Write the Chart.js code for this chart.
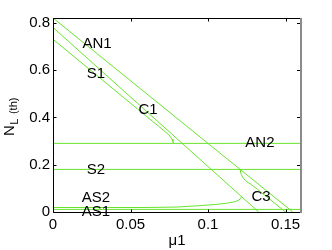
<!DOCTYPE html>
<html><head><meta charset="utf-8">
<script src="https://cdn.jsdelivr.net/npm/chart.js@4"></script>
<style>html,body{margin:0;padding:0;background:#fff;}#c{display:block;}</style>
</head><body>
<canvas id="c" width="332" height="250"></canvas>
<script>
// ---- tick labels / ranges ----
const xTicks = [0, 0.05, 0.1, 0.15];
const xTickLabels = ['0', '0.05', '0.1', '0.15'];
const yTicks = [0, 0.2, 0.4, 0.6, 0.8];
const yTickLabels = ['0', '0.2', '0.4', '0.6', '0.8'];
const xRange = [0, 0.16];
const yRange = [0, 0.82];

// ---- series ----
const an1X = [0, 0.1547];
const an1Y = [0.82, 0];
const midX = [0, 0.1327];
const midY = [0.78, 0];
const s1X = [0, 0.068, 0.071, 0.0735, 0.0755, 0.0768, 0.0774, 0.0776];
const s1Y = [0.73, 0.3628, 0.347, 0.333, 0.320, 0.308, 0.298, 0.29];
const c3X = [0.1208, 0.1210, 0.1215, 0.1225, 0.124, 0.126, 0.128, 0.132, 0.14, 0.150];
const c3Y = [0.18, 0.168, 0.158, 0.146, 0.134, 0.124, 0.1156, 0.0954, 0.053, 0.0];
const an2X = [0, 0.16];
const an2Y = [0.29, 0.29];
const s2X = [0, 0.16];
const s2Y = [0.18, 0.18];
const as1X = [0, 0.16];
const as1Y = [0.011, 0.011];
const as2X = [0, 0.06, 0.08, 0.095, 0.105, 0.112, 0.117, 0.1195, 0.121, 0.1216];
const as2Y = [0.019, 0.019, 0.021, 0.027, 0.032, 0.037, 0.043, 0.049, 0.056, 0.064];

// ---- text labels ----
const labelTexts = ['AN1', 'S1', 'C1', 'AN2', 'S2', 'C3', 'AS2', 'AS1'];
const labelX = [0.0284, 0.0277, 0.0613, 0.1335, 0.0277, 0.1342, 0.0277, 0.0277];
const labelY = [0.71, 0.583, 0.431, 0.292, 0.1775, 0.0634, 0.059, 0.0];

const LINE = 'rgb(105,228,45)';
const FONT = '"Liberation Sans", Arial, sans-serif';

function pts(xs, ys) { return xs.map((x, i) => ({x: x, y: ys[i]})); }
function ds(xs, ys) {
  return {data: pts(xs, ys), borderColor: LINE, borderWidth: 1, pointRadius: 0,
          fill: false, tension: 0, showLine: true};
}

const decor = {
  id: 'decor',
  afterDatasetsDraw(chart) {
    const ctx = chart.ctx, xs = chart.scales.x, ys = chart.scales.y;
    const a = chart.chartArea;
    ctx.save();
    // in-plot labels
    ctx.fillStyle = '#000';
    ctx.font = '15px ' + FONT;
    ctx.textAlign = 'center';
    ctx.textBaseline = 'middle';
    labelTexts.forEach((t, i) => {
      ctx.fillText(t, xs.getPixelForValue(labelX[i]), ys.getPixelForValue(labelY[i]));
    });
    // axes box
    const L = Math.round(a.left) + 0.5, R = Math.round(a.right), T = Math.round(a.top) + 0.5, B = Math.round(a.bottom) + 0.5;
    ctx.strokeStyle = '#000';
    ctx.lineWidth = 1;
    ctx.beginPath();
    ctx.moveTo(L, B); ctx.lineTo(L, T); ctx.lineTo(R, T);
    ctx.moveTo(L, B); ctx.lineTo(R, B);
    ctx.stroke();
    ctx.strokeStyle = '#8a8a8a';
    ctx.lineWidth = 2;
    ctx.beginPath(); ctx.moveTo(R, T - 0.5); ctx.lineTo(R, B + 0.5); ctx.stroke();
    // ticks (inward)
    ctx.strokeStyle = '#000';
    ctx.lineWidth = 1;
    ctx.beginPath();
    xTicks.forEach(v => {
      const p = Math.round(xs.getPixelForValue(v)) + 0.5;
      ctx.moveTo(p, B); ctx.lineTo(p, B - 3);
      ctx.moveTo(p, T); ctx.lineTo(p, T + 3);
    });
    yTicks.forEach(v => {
      const p = Math.round(ys.getPixelForValue(v)) + 0.5;
      ctx.moveTo(L, p); ctx.lineTo(L + 3, p);
      ctx.moveTo(R - 1, p); ctx.lineTo(R - 4, p);
    });
    ctx.stroke();
    // axis titles
    ctx.fillStyle = '#000';
    ctx.textAlign = 'center';
    ctx.textBaseline = 'middle';
    ctx.font = '15px ' + FONT;
    ctx.fillText('\u03bc1', (a.left + a.right) / 2, 241);
    // y title: N_L (th)
    ctx.translate(14, 136);
    ctx.rotate(-Math.PI / 2);
    ctx.textAlign = 'left';
    ctx.textBaseline = 'alphabetic';
    ctx.font = '15px ' + FONT;
    ctx.fillText('N', 0, 0);
    let w = ctx.measureText('N').width;
    ctx.font = '11px ' + FONT;
    ctx.fillText('L', w + 0.5, 3.5);
    w += ctx.measureText('L').width + 3;
    ctx.font = '11px ' + FONT;
    ctx.fillText('(th)', w + 2, 2.5);
    ctx.restore();
  }
};

new Chart(document.getElementById('c'), {
  type: 'scatter',
  data: {datasets: [
    ds(an1X, an1Y), ds(midX, midY), ds(s1X, s1Y), ds(c3X, c3Y),
    ds(an2X, an2Y), ds(s2X, s2Y), ds(as1X, as1Y), ds(as2X, as2Y)
  ]},
  options: {
    responsive: false, animation: false, devicePixelRatio: 1,
    layout: {padding: {top: 18, right: 31, left: 0, bottom: 0}},
    plugins: {legend: {display: false}, tooltip: {enabled: false}},
    scales: {
      x: {type: 'linear', min: xRange[0], max: xRange[1],
          grid: {display: false, drawTicks: false}, border: {display: false},
          afterBuildTicks: s => { s.ticks = xTicks.map(v => ({value: v})); },
          afterFit: s => { s.height = 38; },
          ticks: {color: '#000', font: {size: 15, family: FONT}, padding: 4, maxRotation: 0, autoSkip: false,
                  callback: (v, i) => xTickLabels[i]}},
      y: {type: 'linear', min: yRange[0], max: yRange[1],
          grid: {display: false, drawTicks: false}, border: {display: false},
          afterBuildTicks: s => { s.ticks = yTicks.map(v => ({value: v})); },
          afterFit: s => { s.width = 53; },
          ticks: {color: '#000', font: {size: 15, family: FONT}, padding: 3, autoSkip: false,
                  callback: (v, i) => yTickLabels[i]}}
    }
  },
  plugins: [decor]
});
</script>
</body></html>
